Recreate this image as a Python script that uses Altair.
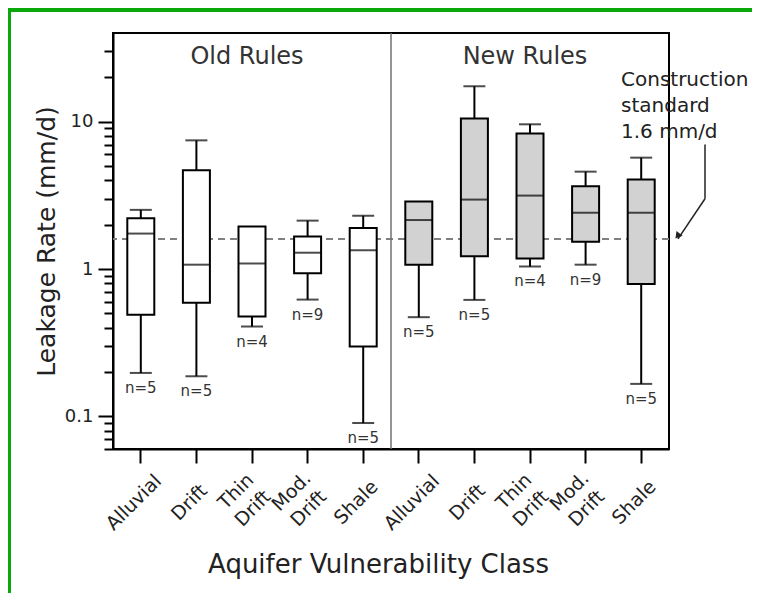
import altair as alt
import pandas as pd

# ---- data ----
rule_groups = ["Old Rules"] * 5 + ["New Rules"] * 5
classes = ["Alluvial", "Drift", "Thin Drift", "Mod. Drift", "Shale"] * 2
whisker_low = [0.197, 0.187, 0.407, 0.62, 0.090, 0.471, 0.617, 1.04, 1.07, 0.166]
q1 = [0.49, 0.59, 0.476, 0.935, 0.298, 1.07, 1.22, 1.18, 1.53, 0.79]
median = [1.74, 1.07, 1.09, 1.29, 1.34, 2.15, 2.96, 3.15, 2.41, 2.41]
q3 = [2.21, 4.68, 1.94, 1.66, 1.90, 2.87, 10.5, 8.3, 3.65, 4.05]
whisker_high = [2.52, 7.47, 1.94, 2.13, 2.30, 2.87, 17.4, 9.6, 4.58, 5.70]
n_obs = [5, 5, 4, 9, 5, 5, 5, 4, 9, 5]
standard = [1.6]
group_titles = ["Old Rules", "New Rules"]
standard_note = ["Construction", "standard", "1.6 mm/d"]
arrow_y_top = [7.0]
arrow_y_bend = [3.0]

major_ticks = [0.1, 1, 10]
minor_ticks = [0.06, 0.07, 0.08, 0.09, 0.2, 0.3, 0.4, 0.5, 0.6, 0.7, 0.8, 0.9,
               2, 3, 4, 5, 6, 7, 8, 9, 20, 30]

keys = [f"{i}|{c}" for i, c in enumerate(classes)]
df = pd.DataFrame({
    "key": keys, "group": rule_groups, "cls": classes,
    "lo": whisker_low, "q1": q1, "med": median, "q3": q3, "hi": whisker_high,
    "n": [f"n={v}" for v in n_obs],
})

FONT = "DejaVu Sans"
TXT = "#222222"
TWO_LINE = "indexof(datum.label, ' ') >= 0"

y_scale = alt.Scale(type="log", domain=[0.06, 40], nice=False)
x_scale = alt.Scale(type="band", paddingInner=0, paddingOuter=0)

x_axis = alt.Axis(
    title="Aquifer Vulnerability Class",
    labelExpr="split(split(datum.label, '|')[1], ' ')",
    labelAngle=315, labelAlign="center", labelBaseline="middle",
    labelFontSize=19, labelLineHeight=24,
    labelPadding={"condition": {"test": TWO_LINE, "value": 28}, "value": 39},
    labelOffset={"condition": {"test": TWO_LINE, "value": -16}, "value": -7},
    labelColor=TXT, labelFont=FONT,
    tickSize=14, tickWidth=2, tickColor="black",
    domainColor="black", domainWidth=2,
    titleFontSize=26, titleFontWeight="normal", titleFont=FONT, titleColor=TXT,
    titleX=265, titleY=123, titleBaseline="alphabetic", titleAlign="center",
)
X = alt.X("key:N", sort=keys, scale=x_scale, axis=x_axis)

major_axis = alt.Axis(
    values=major_ticks, orient="left", format="~g",
    tickSize=15, tickWidth=2, tickColor="black",
    domainColor="black", domainWidth=2,
    labelFontSize=18, labelPadding=5, labelColor=TXT, labelFont=FONT, labelFlush=False,
    grid=False,
    title="Leakage Rate (mm/d)", titleFontSize=25, titleFontWeight="normal",
    titleFont=FONT, titleColor=TXT, titleAngle=270,
    titleX=-59, titleY=208, titleBaseline="alphabetic", titleAlign="center",
)
minor_axis = alt.Axis(
    values=minor_ticks, orient="left", tickSize=9, tickWidth=2, tickColor="black",
    labels=False, domain=False, grid=False, title=None,
)

base = alt.Chart(df)

std_line = alt.Chart(pd.DataFrame({"v": standard})).mark_rule(
    color="#808080", strokeWidth=2, strokeDash=[7, 5]
).encode(y=alt.Y("v:Q", scale=y_scale, axis=minor_axis))

divider = alt.Chart(pd.DataFrame({"key": [keys[5]]})).mark_rule(
    color="#707070", strokeWidth=1.5
).encode(x=alt.X("key:N", sort=keys, scale=x_scale, axis=x_axis, bandPosition=0))

whiskers = base.mark_rule(color="black", strokeWidth=2).encode(
    x=X, y=alt.Y("lo:Q", scale=y_scale, axis=None), y2="hi:Q"
)

boxes = base.mark_bar(size=27, stroke="black", strokeWidth=2).encode(
    x=X,
    y=alt.Y("q1:Q", scale=y_scale, axis=major_axis),
    y2="q3:Q",
    fill=alt.Fill("group:N", scale=alt.Scale(domain=group_titles, range=["#ffffff", "#d2d2d2"]), legend=None),
)

medians = base.mark_tick(size=27, thickness=2, color="black").encode(
    x=X, y=alt.Y("med:Q", scale=y_scale, axis=None)
)
caps_hi = base.transform_filter("datum.hi > datum.q3").mark_tick(size=22, thickness=2, color="black").encode(
    x=X, y=alt.Y("hi:Q", scale=y_scale, axis=None)
)
caps_lo = base.mark_tick(size=22, thickness=2, color="black").encode(
    x=X, y=alt.Y("lo:Q", scale=y_scale, axis=None)
)
n_labels = base.mark_text(font=FONT, fontSize=15, color="#333333", dy=15, baseline="middle").encode(
    x=X, y=alt.Y("lo:Q", scale=y_scale, axis=None), text="n:N"
)

titles_df = pd.DataFrame({"key": [keys[2], keys[7]], "t": group_titles})
group_text = alt.Chart(titles_df).mark_text(
    font=FONT, fontSize=24, color="#333333", baseline="middle", dx=-5
).encode(x=alt.X("key:N", sort=keys, scale=x_scale, axis=x_axis), y=alt.value(24), text="t:N")

note = alt.Chart(pd.DataFrame({"t": [standard_note]})).mark_text(
    font=FONT, fontSize=20, color=TXT, align="left", baseline="top", lineHeight=26
).encode(x=alt.value(508), y=alt.value(37), text="t")

arrow_df = pd.DataFrame({"a": arrow_y_top, "b": arrow_y_bend, "c": standard})
arrow_v = alt.Chart(arrow_df).mark_rule(color="#222222", strokeWidth=1.5).encode(
    x=alt.value(592), x2=alt.value(592),
    y=alt.Y("a:Q", scale=y_scale, axis=None), y2="b:Q",
)
arrow_d = alt.Chart(arrow_df).mark_rule(color="#222222", strokeWidth=1.5).encode(
    x=alt.value(592), x2=alt.value(565),
    y=alt.Y("b:Q", scale=y_scale, axis=None), y2="c:Q",
)
arrow_head = alt.Chart(arrow_df).mark_point(
    shape="triangle-up", filled=True, size=60, angle=218, color="#222222", opacity=1, yOffset=-3
).encode(x=alt.value(564.5), y=alt.Y("c:Q", scale=y_scale, axis=None))

border = alt.Chart(pd.DataFrame({"d": [0]}))
border_top = border.mark_rule(color="#0aa80a", strokeWidth=4).encode(
    x=alt.value(-110), x2=alt.value(700), y=alt.value(-23), y2=alt.value(-23)
)
border_left = border.mark_rule(color="#0aa80a", strokeWidth=4).encode(
    x=alt.value(-104), x2=alt.value(-104), y=alt.value(-25), y2=alt.value(620)
)

chart = alt.layer(
    std_line, divider, whiskers, boxes, medians, caps_hi, caps_lo, n_labels,
    group_text, note, arrow_v, arrow_d, arrow_head, border_top, border_left,
).resolve_axis(y="independent").properties(
    width=556, height=416,
    autosize=alt.AutoSizeParams(type="none"),
    padding={"left": 105, "top": 25, "right": 83, "bottom": 144},
    background="white",
).configure_view(stroke="black", strokeWidth=2)

chart.save("out.html", embed_options={"renderer": "svg", "actions": False})
